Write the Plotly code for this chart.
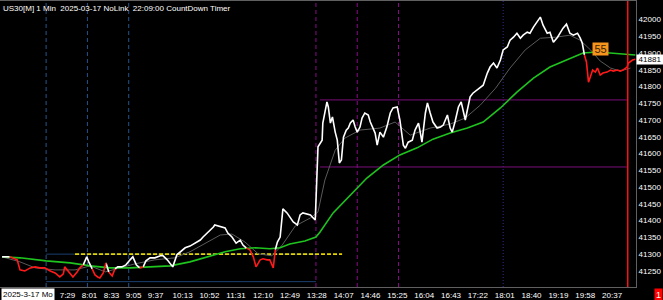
import numpy as np
import plotly.graph_objects as go

# ---------------- data ----------------
price_times = ["06:06","06:17","06:28","06:32","06:39","06:47","06:54","07:01","07:08","07:16",
               "07:23","07:30","07:35","07:37","07:45","07:49","07:55","07:59","08:04","08:09",
               "08:12","08:17","08:21","08:25","08:28","08:33","08:37","08:41","08:46","08:50",
               "08:54","09:00","09:06","09:12","09:16","09:21","09:26","09:31","09:35","09:41",
               "09:48","09:56","10:00","10:06","10:10","10:14","10:20","10:25","10:32","10:39",
               "10:46","10:54","10:58","11:04","11:08","11:13","11:15","11:23","11:30","11:34",
               "11:40","11:46","11:52","11:56","12:01","12:06","12:11","12:15","12:21","12:25",
               "12:31","12:35","12:40","12:43","12:46","12:50","12:54","13:00","13:04","13:09",
               "13:15","13:19","13:23","13:29","13:34","13:38","13:41","13:45","13:48","13:51",
               "13:52","13:55","13:58","14:00","14:03","14:06","14:07","14:10","14:13","14:16",
               "14:19","14:22","14:26","14:29","14:32","14:36","14:39","14:42","14:46","14:49",
               "14:53","14:58","15:01","15:05","15:08","15:11","15:15","15:20","15:25","15:30",
               "15:34","15:40","15:44","15:49","15:52","15:56","16:02","16:06","16:11","16:13",
               "16:16","16:21","16:24","16:28","16:32","16:38","16:43","16:47","16:53","16:57",
               "17:00","17:04","17:09","17:13","17:16","17:19","17:22","17:26","17:30","17:36",
               "17:41","17:45","17:51","17:55","18:00","18:05","18:10","18:14","18:20","18:24",
               "18:29","18:34","18:39","18:43","18:49","18:53","18:58","19:03","19:08","19:12",
               "19:18","19:22","19:27","19:33","19:37","19:41","19:46","19:51","19:56","20:02",
               "20:06","20:09","20:12","20:15","20:18","20:21","20:24","20:28","20:31","20:35",
               "20:39","20:45","20:50","20:54","21:00","21:04","21:08","21:14","21:16","21:22",
               "21:26"]
price_values = [41292,41292,41283,41253,41250,41259,41262,41259,41259,41250,
                41244,41232,41241,41262,41244,41232,41247,41259,41268,41292,
                41277,41256,41238,41232,41229,41244,41274,41247,41235,41256,
                41262,41262,41268,41283,41292,41268,41259,41262,41280,41289,
                41289,41295,41295,41283,41274,41262,41298,41307,41319,41324,
                41333,41342,41351,41363,41369,41381,41387,41381,41378,41363,
                41351,41333,41342,41327,41318,41313,41292,41262,41283,41286,
                41283,41283,41259,41313,41336,41351,41435,41423,41411,41396,
                41387,41417,41423,41420,41417,41408,41402,41620,41631,41640,
                41691,41721,41754,41739,41691,41709,41694,41664,41640,41572,
                41581,41649,41670,41676,41691,41700,41679,41664,41679,41706,
                41721,41715,41694,41676,41661,41625,41664,41649,41679,41721,
                41736,41739,41700,41625,41616,41634,41640,41670,41691,41670,
                41634,41721,41751,41721,41694,41676,41679,41685,41715,41676,
                41664,41694,41739,41754,41721,41700,41730,41769,41780,41789,
                41798,41804,41840,41858,41870,41855,41879,41909,41918,41938,
                41947,41959,41944,41953,41962,41959,41977,41992,42007,41983,
                41959,41962,41932,41947,41962,41974,41986,41959,41953,41959,
                41944,41929,41894,41873,41813,41834,41849,41843,41855,41834,
                41840,41843,41849,41846,41849,41846,41849,41858,41870,41879,
                41881]

slow_ma_times = ["06:06","06:32","07:10","07:45","08:14","08:43","09:12","09:41","10:10","10:39",
                 "11:08","11:30","11:52","12:14","12:35","12:50","13:04","13:26","13:42","13:48",
                 "14:07","14:32","14:56","15:20","15:44","16:09","16:32","16:57","17:22","17:45",
                 "18:10","18:34","18:58","19:22","19:47","20:10","20:31","20:54","21:26"]
slow_ma_values = [41292,41289,41280,41274,41265,41259,41259,41262,41265,41277,
                  41295,41307,41316,41319,41316,41319,41330,41339,41351,41366,
                  41423,41476,41527,41566,41596,41617,41643,41661,41676,41694,
                  41736,41783,41825,41858,41879,41900,41903,41900,41894]

fast_ma_times = ["06:06","06:32","06:54","07:23","07:52","08:14","08:36","08:57","09:19","09:48",
                 "10:17","10:39","11:01","11:23","11:40","11:59","12:18","12:38","12:53","13:12",
                 "13:34","13:45","13:55","14:10","14:24","14:46","15:15","15:37","15:59","16:28",
                 "16:57","17:19","17:41","18:03","18:24","18:46","19:08","19:30","19:51","20:06",
                 "20:21","20:35","20:50","21:04","21:19"]
fast_ma_values = [41292,41277,41259,41253,41253,41265,41247,41259,41271,41283,
                  41289,41307,41333,41357,41360,41336,41301,41295,41327,41384,
                  41408,41426,41521,41610,41646,41670,41676,41694,41655,41676,
                  41688,41706,41745,41795,41855,41909,41944,41947,41953,41938,
                  41909,41876,41855,41846,41855]

x_tick_labels = ["7:29","8:01","8:33","9:05","9:37","10:13","10:52","11:31","12:10","12:49",
                 "13:28","14:07","14:46","15:25","16:04","16:43","17:22","18:01","18:40","19:19",
                 "19:58","20:37"]
y_tick_values = [41250,41300,41350,41400,41450,41500,41550,41600,41650,41700,
                 41750,41800,41850,41900,41950,42000]

blue_session_lines = ["07:10","08:10","09:10"]
purple_session_lines = ["13:42","14:42","15:42"]
dotted_line_time = "18:14"
current_bar_time = "21:15"
view_start, view_end = "06:03", "21:27"
price_bottom, price_top = 41202, 42055

box_start, box_end = "07:10", "13:42"
box_high, box_low = 41300, 41218
yellow_start, yellow_end, yellow_level = "07:52", "14:20", 41300
range_start, range_end = "13:48", "21:15"
range_high, range_low = 41760, 41560

last_price = 41881
countdown_text = "55"
countdown_time, countdown_price = "20:35", 41911
title_text = "US30[M] 1 Min  2025-03-17 NoLink  22:09:00 CountDown Timer"
date_label = "2025-3-17 Mo"


def tm(s):
    h, m = s.split(":")
    return int(h) * 60 + int(m)


FONT = "Liberation Sans, Arial, sans-serif"

px = np.array([tm(t) for t in price_times], dtype=float)
py = np.array(price_values, dtype=float)
sx = np.array([tm(t) for t in slow_ma_times], dtype=float)
sy = np.array(slow_ma_values, dtype=float)
fx = [tm(t) for t in fast_ma_times]

# colour the price red where it is below the slow MA
mid_x = (px[:-1] + px[1:]) / 2
mid_y = (py[:-1] + py[1:]) / 2
below = mid_y < np.interp(mid_x, sx, sy)

seg = {True: ([], []), False: ([], [])}
start = 0
for i in range(1, len(below) + 1):
    if i == len(below) or below[i] != below[start]:
        xs, ys = seg[bool(below[start])]
        xs.extend(list(px[start:i + 1]) + [None])
        ys.extend(list(py[start:i + 1]) + [None])
        start = i

fig = go.Figure()

shapes = []
for t in blue_session_lines:
    shapes.append(dict(type="line", xref="x", yref="paper", x0=tm(t), x1=tm(t), y0=0, y1=1,
                       line=dict(color="#24558c", width=1, dash="4px,3px"), layer="below"))
for t in purple_session_lines:
    shapes.append(dict(type="line", xref="x", yref="paper", x0=tm(t), x1=tm(t), y0=0, y1=1,
                       line=dict(color="#8a0a8a", width=1, dash="4px,3px"), layer="below"))
shapes.append(dict(type="line", xref="x", yref="paper", x0=tm(dotted_line_time), x1=tm(dotted_line_time),
                   y0=0, y1=1, line=dict(color="#3a2a8a", width=1, dash="1px,2px"), layer="below"))
for lvl in (box_high, box_low):
    shapes.append(dict(type="line", xref="x", yref="y", x0=tm(box_start), x1=tm(box_end), y0=lvl, y1=lvl,
                       line=dict(color="#1c3f6e", width=1), layer="below"))
for lvl in (range_high, range_low):
    shapes.append(dict(type="line", xref="x", yref="y", x0=tm(range_start), x1=tm(range_end), y0=lvl, y1=lvl,
                       line=dict(color="#7a0f7a", width=1), layer="below"))
shapes.append(dict(type="line", xref="x", yref="y", x0=tm(yellow_start), x1=tm(yellow_end),
                   y0=yellow_level, y1=yellow_level,
                   line=dict(color="#e6d200", width=1.6, dash="4px,2px"), layer="below"))
shapes.append(dict(type="line", xref="x", yref="paper", x0=tm(current_bar_time), x1=tm(current_bar_time),
                   y0=0, y1=1, line=dict(color="#ff1010", width=1.5)))

fig.add_trace(go.Scatter(x=fx, y=fast_ma_values, mode="lines",
                         line=dict(color="#5a5a5a", width=1), hoverinfo="skip"))
fig.add_trace(go.Scatter(x=sx, y=sy, mode="lines",
                         line=dict(color="#1fc41f", width=1.6), hoverinfo="skip"))
fig.add_trace(go.Scatter(x=seg[False][0], y=seg[False][1], mode="lines",
                         line=dict(color="#ffffff", width=1.6), hoverinfo="skip"))
fig.add_trace(go.Scatter(x=seg[True][0], y=seg[True][1], mode="lines",
                         line=dict(color="#ff1a1a", width=1.6), hoverinfo="skip"))

annotations = [
    dict(text=title_text, xref="paper", yref="paper", x=0, y=1, xanchor="left", yanchor="top",
         showarrow=False, font=dict(family=FONT, size=8, color="#ffffff"), xshift=1, yshift=-1),
    dict(text=date_label, xref="paper", yref="paper", x=0, y=0, xanchor="left", yanchor="top",
         showarrow=False, font=dict(family=FONT, size=8, color="#000000"), bgcolor="#ffffff",
         borderpad=1, xshift=1, yshift=-1),
    dict(text=str(last_price), xref="paper", yref="y", x=1, y=last_price, xanchor="left", yanchor="middle",
         showarrow=False, font=dict(family=FONT, size=8, color="#000000"), bgcolor="#ffffff",
         borderpad=0, width=26),
    dict(text=countdown_text, xref="x", yref="y", x=tm(countdown_time), y=countdown_price,
         xanchor="center", yanchor="middle", showarrow=False,
         font=dict(family=FONT, size=11, color="#3a2608"), bgcolor="#f7941d", borderpad=0, width=15),
    dict(text="1", xref="paper", yref="paper", x=1, y=0, xanchor="right", yanchor="top",
         showarrow=False, font=dict(family=FONT, size=9, color="#ffffff"), bgcolor="#ff0000",
         borderpad=1, xshift=27, yshift=-1),
]

fig.update_layout(
    width=663, height=300,
    margin=dict(l=0, r=27, t=1, b=13, autoexpand=False),
    paper_bgcolor="#000000", plot_bgcolor="#000000",
    showlegend=False,
    shapes=shapes, annotations=annotations,
    xaxis=dict(range=[tm(view_start), tm(view_end)], tickvals=[tm(t) for t in x_tick_labels],
               ticktext=x_tick_labels, ticklabelposition="outside right", tickangle=0,
               automargin=False, showgrid=False,
               zeroline=False, showline=True, linecolor="#606060", linewidth=1, mirror=True,
               ticks="", tickfont=dict(family=FONT, size=8, color="#ffffff")),
    yaxis=dict(range=[price_bottom, price_top], side="right", tickvals=y_tick_values,
               ticktext=[str(v) for v in y_tick_values], showgrid=False, zeroline=False,
               automargin=False,
               showline=True, linecolor="#606060", linewidth=1, mirror=True, ticks="",
               tickfont=dict(family=FONT, size=8, color="#ffffff")),
)

fig.write_html("out.html")
